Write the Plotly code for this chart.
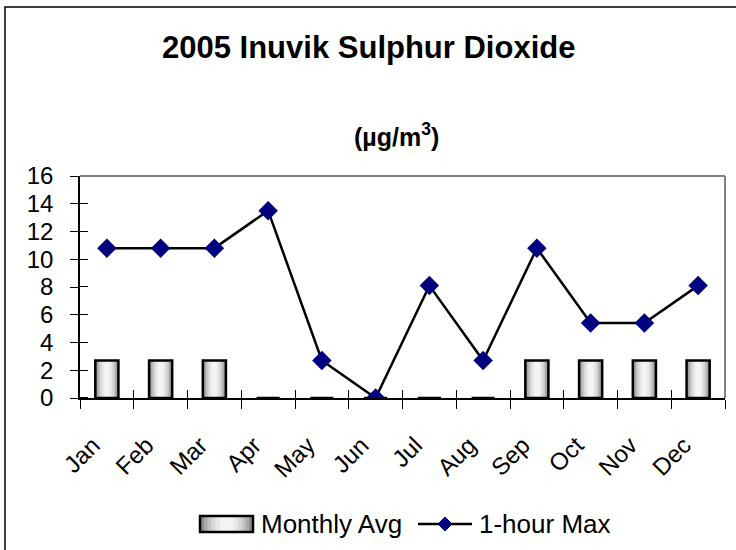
import plotly.graph_objects as go

months = ["Jan", "Feb", "Mar", "Apr", "May", "Jun", "Jul", "Aug", "Sep", "Oct", "Nov", "Dec"]
monthly_avg = [2.7, 2.7, 2.7, 0, 0, 0, 0, 0, 2.7, 2.7, 2.7, 2.7]
hour_max = [10.8, 10.8, 10.8, 13.5, 2.7, 0, 8.1, 2.7, 10.8, 5.4, 5.4, 8.1]
y_ticks = [0, 2, 4, 6, 8, 10, 12, 14, 16]
series_names = ["Monthly Avg", "1-hour Max"]

W, H = 736, 550
L, R, T, B = 80, 11, 176, 152
pw, ph = W - L - R, H - T - B


def px(x):
    return (x - L) / pw


def py(y):
    return (H - B - y) / ph


fig = go.Figure()

# gradient-like bars: layered overlays
layers = [(0.43, "#8a8a8a"), (0.37, "#a8a8a8"), (0.31, "#c4c4c4"),
          (0.25, "#d8d8d8"), (0.18, "#e8e8e8"), (0.10, "#f4f4f4")]
for w, c in layers:
    fig.add_trace(go.Bar(
        x=months, y=monthly_avg, width=w,
        marker=dict(color=c, line=dict(width=0)),
        showlegend=False, hoverinfo="skip"))
fig.add_trace(go.Bar(
    x=months, y=monthly_avg, width=0.43,
    marker=dict(color="rgba(0,0,0,0)", line=dict(color="black", width=2.5)),
    name=series_names[0], showlegend=False))

fig.add_trace(go.Scatter(
    x=months, y=hour_max, mode="lines+markers", name=series_names[1],
    line=dict(color="black", width=2.5),
    marker=dict(symbol="diamond", size=15, color="#000080"),
    showlegend=False))

boundaries = [i - 0.5 for i in range(len(months) + 1)]

# invisible helper trace so the overlay x axis (upper half of the crossing ticks) is drawn
fig.add_trace(go.Scatter(
    x=[boundaries[0], boundaries[-1]], y=[y_ticks[0], y_ticks[-1]],
    xaxis="x2", yaxis="y", mode="lines", line=dict(color="rgba(0,0,0,0)"),
    showlegend=False, hoverinfo="skip"))

shapes = [
    dict(type="rect", xref="paper", yref="paper", x0=px(5), x1=px(745), y0=py(560), y1=py(7),
         line=dict(color="black", width=1.5), layer="below"),
    dict(type="line", xref="paper", yref="paper", x0=0, x1=1, y0=1, y1=1,
         line=dict(color="#808080", width=2)),
    dict(type="line", xref="paper", yref="paper", x0=1, x1=1, y0=0, y1=1,
         line=dict(color="#808080", width=2)),
]

# custom legend: gradient swatch
sx0, sx1, sy0, sy1 = 200, 253, 516, 532
sw_layers = [(1.0, "#8a8a8a"), (0.86, "#a8a8a8"), (0.72, "#c4c4c4"),
             (0.58, "#d8d8d8"), (0.42, "#e8e8e8"), (0.24, "#f4f4f4")]
cx = (sx0 + sx1) / 2
for f, c in sw_layers:
    hw = (sx1 - sx0) / 2 * f
    shapes.append(dict(type="rect", xref="paper", yref="paper",
                       x0=px(cx - hw), x1=px(cx + hw), y0=py(sy1), y1=py(sy0),
                       fillcolor=c, line=dict(width=0)))
shapes.append(dict(type="rect", xref="paper", yref="paper",
                   x0=px(sx0), x1=px(sx1), y0=py(sy1), y1=py(sy0),
                   line=dict(color="black", width=2.5)))
# line legend
shapes.append(dict(type="line", xref="paper", yref="paper",
                   x0=px(418), x1=px(472), y0=py(524), y1=py(524),
                   line=dict(color="black", width=2.5)))
mx, my, r = 445, 524, 7
path = "M {} {} L {} {} L {} {} L {} {} Z".format(
    px(mx), py(my - r), px(mx + r), py(my), px(mx), py(my + r), px(mx - r), py(my))
shapes.append(dict(type="path", xref="paper", yref="paper", path=path,
                   fillcolor="#000080", line=dict(color="#000080", width=1)))

fig.update_layout(
    width=W, height=H,
    margin=dict(l=L, r=R, t=T, b=B),
    paper_bgcolor="white", plot_bgcolor="white",
    barmode="overlay",
    font=dict(family="Liberation Sans, Arial", color="black", size=24),
    showlegend=False,
    xaxis=dict(type="category", showgrid=False, showline=True, linecolor="black", linewidth=1.5,
               ticks="outside", ticklen=9, tickcolor="black", tickson="boundaries",
               tickangle=-45, tickfont=dict(size=24), automargin=False,
               ticklabelstandoff=22, ticklabelshift=-14,
               range=[-0.5, 11.5]),
    xaxis2=dict(overlaying="x", anchor="y", type="linear", range=[-0.5, 11.5],
                tickvals=boundaries, ticks="inside", ticklen=8, tickcolor="black",
                tickwidth=1, showticklabels=False, showline=False, showgrid=False,
                zeroline=False, side="bottom", automargin=False),
    yaxis=dict(range=[0, 16], tickvals=y_ticks, showgrid=False, showline=True,
               linecolor="black", linewidth=1.5, ticks="outside", ticklen=8,
               tickcolor="black", tickfont=dict(size=24), zeroline=False, automargin=False,
               ticklabelstandoff=12,
               minor=dict(ticks="inside", ticklen=8, tickcolor="black", tick0=0.001,
                          dtick=2, showgrid=False)),
    shapes=shapes,
    annotations=[
        dict(text="<b>2005 Inuvik Sulphur Dioxide</b>", xref="paper", yref="paper",
             x=px(368), y=py(47), xanchor="center", yanchor="middle",
             showarrow=False, font=dict(size=31)),
        dict(text="<b>(µg/m<sup>3</sup>)</b>", xref="paper", yref="paper",
             x=px(396), y=py(135), xanchor="center", yanchor="middle",
             showarrow=False, font=dict(size=25)),
        dict(text=series_names[0], xref="paper", yref="paper",
             x=px(259), y=py(524), xanchor="left", yanchor="middle",
             showarrow=False, font=dict(size=26)),
        dict(text=series_names[1], xref="paper", yref="paper",
             x=px(477), y=py(524), xanchor="left", yanchor="middle",
             showarrow=False, font=dict(size=26)),
    ],
)

fig.write_html("out.html", config={"displayModeBar": False},
               post_script="document.body.style.margin='0';document.body.style.overflow='hidden';")
